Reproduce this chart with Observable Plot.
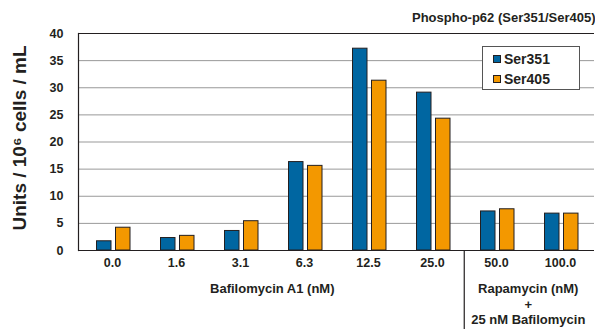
<!DOCTYPE html>
<html>
<head>
<meta charset="utf-8">
<script src="https://cdn.jsdelivr.net/npm/d3@7"></script>
<script src="https://cdn.jsdelivr.net/npm/@observablehq/plot@0.6"></script>
<style>
  html, body { margin: 0; padding: 0; background: #fff; }
  #wrap { position: relative; width: 595px; height: 329px; font-family: "Liberation Sans", Arial, sans-serif; }
  #legend { position: absolute; left: 482px; top: 46px; width: 96px; height: 42px; border: 1px solid #555; background: #fff;
            font-weight: bold; font-size: 14px; color: #231f20; }
  .item { position: absolute; left: 10px; display: flex; align-items: center; height: 16px; }
  .sw { width: 6px; height: 6px; border: 1px solid #231f20; margin-right: 3px; }
</style>
</head>
<body>
<div id="wrap"></div>
<script>
const categories = ["0.0", "1.6", "3.1", "6.3", "12.5", "25.0", "50.0", "100.0"];
const ser351 = [1.7, 2.3, 3.6, 16.3, 37.2, 29.1, 7.2, 6.8];
const ser405 = [4.2, 2.7, 5.4, 15.6, 31.3, 24.3, 7.6, 6.8];
const seriesNames = ["Ser351", "Ser405"];
const seriesColors = ["#0066a1", "#f39800"];
const yTicks = [0, 5, 10, 15, 20, 25, 30, 35, 40];
const titleText = "Phospho-p62 (Ser351/Ser405)";
const yLabel = "Units / 10\u2076 cells / mL";
const xLabel1 = "Bafilomycin A1 (nM)";
const xLabel2 = "Rapamycin (nM)\n+\n25 nM Bafilomycin";

const rows = categories.map((c, i) => ({cat: c, ser351: ser351[i], ser405: ser405[i]}));

const W = 595, H = 329, ML = 78, MR = 1, MT = 33, MB = 79;
const bw = (W - ML - MR) / categories.length;
const ink = "#231f20";

const chart = Plot.plot({
  width: W, height: H,
  marginLeft: ML, marginRight: MR, marginTop: MT, marginBottom: MB,
  style: {fontFamily: "'Liberation Sans', Arial, sans-serif", fontWeight: "bold", fontSize: "12px", color: ink, background: "white", overflow: "visible"},
  x: {domain: categories, padding: 0, label: null},
  y: {domain: [0, 40], label: null},
  marks: [
    Plot.gridY(yTicks.slice(1, -1), {stroke: "#999", strokeOpacity: 1, strokeWidth: 1}),
    Plot.barY(rows, {x: "cat", y: "ser351", fill: seriesColors[0], stroke: ink, strokeWidth: 1, insetLeft: 16.5, insetRight: 33}),
    Plot.barY(rows, {x: "cat", y: "ser405", fill: seriesColors[1], stroke: ink, strokeWidth: 1, insetLeft: 35.5, insetRight: 14}),
    Plot.ruleY([0, 40], {stroke: ink, strokeWidth: 1.2}),
    Plot.frame({anchor: "left", stroke: ink, strokeWidth: 1.2}),
    Plot.ruleX([categories[6]], {dx: -bw / 2, y1: 0, y2: -14.6, stroke: ink, strokeWidth: 1.2}),
    Plot.axisY(yTicks, {tickSize: 0, tickPadding: 15, fontSize: 12.5, fontWeight: "bold", label: null}),
    Plot.axisX({tickSize: 0, tickPadding: 8, fontSize: 12.5, fontWeight: "bold", label: null}),
    Plot.text([xLabel1], {x: () => categories[3], dx: -bw / 2, frameAnchor: "bottom", textAnchor: "middle", lineAnchor: "middle", dy: 38, fontSize: 13, fontWeight: "bold", fill: ink}),
    Plot.text([xLabel2], {x: () => categories[7], dx: -bw / 2, frameAnchor: "bottom", textAnchor: "middle", lineAnchor: "middle", dy: 53, lineHeight: 1.2, fontSize: 13, fontWeight: "bold", fill: ink}),
    Plot.text([titleText], {frameAnchor: "top-right", dx: 1, dy: -16, textAnchor: "end", lineAnchor: "middle", fontSize: 13, fontWeight: "bold", fill: ink}),
    Plot.text([yLabel], {frameAnchor: "left", rotate: -90, dx: -59, dy: -4, textAnchor: "middle", lineAnchor: "middle", fontSize: 19, fontWeight: "bold", fill: ink})
  ]
});

const wrap = document.getElementById("wrap");
wrap.appendChild(chart);
const legend = document.createElement("div");
legend.id = "legend";
seriesNames.forEach((name, i) => {
  const item = document.createElement("div");
  item.className = "item";
  item.style.top = (4 + i * 20) + "px";
  const sw = document.createElement("span");
  sw.className = "sw";
  sw.style.background = seriesColors[i];
  const t = document.createElement("span");
  t.textContent = name;
  item.appendChild(sw);
  item.appendChild(t);
  legend.appendChild(item);
});
wrap.appendChild(legend);
</script>
</body>
</html>
